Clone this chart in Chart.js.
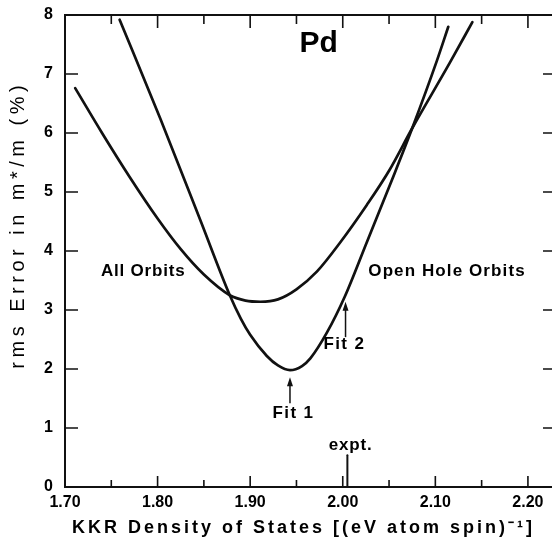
<!DOCTYPE html>
<html>
<head>
<meta charset="utf-8">
<script src="https://cdn.jsdelivr.net/npm/chart.js@4.4.1/dist/chart.umd.min.js"></script>
<style>
  html, body { margin: 0; padding: 0; background: #fff; }
  #wrap { width: 552px; height: 540px; position: relative; }
</style>
</head>
<body>
<div id="wrap"><canvas id="plot"></canvas></div>
<script>
// rms error in m*/m (%) against the KKR density of states, Pd
const allOrbitsX = [1.711, 1.740, 1.770, 1.800, 1.825, 1.850, 1.878, 1.895, 1.911, 1.930, 1.950, 1.972, 1.997, 2.026, 2.050, 2.075, 2.116, 2.140];
const allOrbitsY = [6.76, 6.00, 5.25, 4.55, 4.03, 3.60, 3.25, 3.16, 3.14, 3.18, 3.35, 3.65, 4.14, 4.78, 5.36, 6.08, 7.20, 7.88];

const openHoleX = [1.759, 1.803, 1.846, 1.878, 1.890, 1.900, 1.918, 1.930, 1.943, 1.956, 1.965, 1.983, 2.002, 2.026, 2.053, 2.075, 2.102, 2.114];
const openHoleY = [7.92, 6.24, 4.53, 3.25, 2.85, 2.58, 2.22, 2.06, 1.98, 2.05, 2.18, 2.62, 3.22, 4.15, 5.20, 6.08, 7.24, 7.80];

const exptDensity = 2.005;
const exptMarkHeight = 0.54;

const xTicks = [1.70, 1.80, 1.90, 2.00, 2.10, 2.20];
const xMinorTicks = [1.75, 1.85, 1.95, 2.05, 2.15];
const yTicks = [0, 1, 2, 3, 4, 5, 6, 7, 8];

// text on the plot, placed in data units
const notes = [
  { text: "Pd", x: 1.974, y: 7.51, font: "bold 30px 'Liberation Sans', Arial", sp: 0 },
  { text: "All Orbits", x: 1.784, y: 3.66, font: "bold 17px 'Liberation Sans', Arial", sp: 0.8 },
  { text: "Open Hole Orbits", x: 2.112, y: 3.66, font: "bold 17px 'Liberation Sans', Arial", sp: 1.1 },
  { text: "Fit 2", x: 2.001, y: 2.42, font: "bold 17px 'Liberation Sans', Arial", sp: 1.4 },
  { text: "Fit 1", x: 1.946, y: 1.25, font: "bold 17px 'Liberation Sans', Arial", sp: 1.4 },
  { text: "expt.", x: 2.008, y: 0.71, font: "bold 17px 'Liberation Sans', Arial", sp: 0.8 }
];
const arrows = [
  { x: 1.943, from: 1.42, to: 1.86 },
  { x: 2.003, from: 2.54, to: 3.14 }
];

const toPoints = (xs, ys) => xs.map((v, i) => ({ x: v, y: ys[i] }));

function spacedText(ctx, text, px, py, font, sp) {
  ctx.font = font;
  ctx.letterSpacing = sp + "px";
  ctx.textAlign = "center";
  ctx.textBaseline = "middle";
  ctx.fillText(text, px + sp / 2, py);
}

const framePlugin = {
  id: "frame",
  afterDraw(chart) {
    const { ctx, chartArea: a, scales: { x, y } } = chart;
    ctx.save();
    ctx.strokeStyle = "#111";
    ctx.lineWidth = 2;
    ctx.beginPath();
    ctx.moveTo(a.right, a.top);
    ctx.lineTo(a.left, a.top);
    ctx.lineTo(a.left, a.bottom);
    ctx.lineTo(a.right, a.bottom);
    ctx.stroke();

    ctx.lineWidth = 1.6;
    ctx.beginPath();
    yTicks.forEach((v) => {
      const py = y.getPixelForValue(v);
      ctx.moveTo(a.left, py); ctx.lineTo(a.left + 13, py);
      ctx.moveTo(a.right, py); ctx.lineTo(a.right - 9, py);
    });
    xTicks.forEach((v) => {
      const px = x.getPixelForValue(v);
      ctx.moveTo(px, a.bottom); ctx.lineTo(px, a.bottom - 11);
      ctx.moveTo(px, a.top); ctx.lineTo(px, a.top + 13);
    });
    xMinorTicks.forEach((v) => {
      const px = x.getPixelForValue(v);
      ctx.moveTo(px, a.bottom); ctx.lineTo(px, a.bottom - 7);
      ctx.moveTo(px, a.top); ctx.lineTo(px, a.top + 9);
    });
    ctx.stroke();

    // arrows pointing at the fits
    ctx.fillStyle = "#111";
    ctx.lineWidth = 1.5;
    arrows.forEach((ar) => {
      const px = x.getPixelForValue(ar.x);
      const y0 = y.getPixelForValue(ar.from);
      const y1 = y.getPixelForValue(ar.to);
      ctx.beginPath();
      ctx.moveTo(px, y0); ctx.lineTo(px, y1 + 6);
      ctx.stroke();
      ctx.beginPath();
      ctx.moveTo(px, y1);
      ctx.lineTo(px - 3, y1 + 9);
      ctx.lineTo(px + 3, y1 + 9);
      ctx.closePath();
      ctx.fill();
    });

    ctx.fillStyle = "#000";
    notes.forEach((n) => {
      spacedText(ctx, n.text, x.getPixelForValue(n.x), y.getPixelForValue(n.y), n.font, n.sp);
    });

    // axis titles
    spacedText(ctx, "KKR Density of States [(eV atom spin)\u207B\u00B9]", 302, 528,
      "bold 18px 'Liberation Sans', Arial", 3);
    ctx.save();
    ctx.translate(18, 227);
    ctx.rotate(-Math.PI / 2);
    spacedText(ctx, "rms Error in m*/m (%)", 0, 0, "20px 'Liberation Sans', Arial", 4.5);
    ctx.restore();
    ctx.restore();
  }
};

const tickFont = { family: "'Liberation Sans', Arial", size: 16, weight: "bold" };

new Chart(document.getElementById("plot"), {
  type: "line",
  data: {
    datasets: [
      { data: toPoints(allOrbitsX, allOrbitsY) },
      { data: toPoints(openHoleX, openHoleY) },
      { data: [{ x: exptDensity, y: 0 }, { x: exptDensity, y: exptMarkHeight }], borderWidth: 2, cubicInterpolationMode: "default", tension: 0 }
    ]
  },
  options: {
    responsive: true,
    maintainAspectRatio: false,
    animation: false,
    layout: { padding: { top: 15, right: 0, bottom: 0, left: 0 } },
    elements: {
      line: { borderColor: "#111", borderWidth: 2.7, cubicInterpolationMode: "monotone", borderCapStyle: "round", borderJoinStyle: "round" },
      point: { radius: 0 }
    },
    plugins: { legend: { display: false }, tooltip: { enabled: false } },
    scales: {
      x: {
        type: "linear",
        min: 1.70,
        max: 2.226,
        grid: { display: false, drawTicks: false },
        border: { display: false },
        afterBuildTicks: (s) => { s.ticks = xTicks.map((v) => ({ value: v })); },
        afterFit: (s) => { s.height = 53; },
        ticks: { color: "#000", font: tickFont, padding: 6, maxRotation: 0, callback: (v) => v.toFixed(2) }
      },
      y: {
        min: 0,
        max: 8,
        grid: { display: false, drawTicks: false },
        border: { display: false },
        afterBuildTicks: (s) => { s.ticks = yTicks.map((v) => ({ value: v })); },
        afterFit: (s) => { s.width = 65; s.paddingTop = 0; s.paddingBottom = 0; },
        ticks: { color: "#000", font: tickFont, padding: 12, callback: (v) => String(v) }
      }
    }
  },
  plugins: [framePlugin]
});
</script>
</body>
</html>
